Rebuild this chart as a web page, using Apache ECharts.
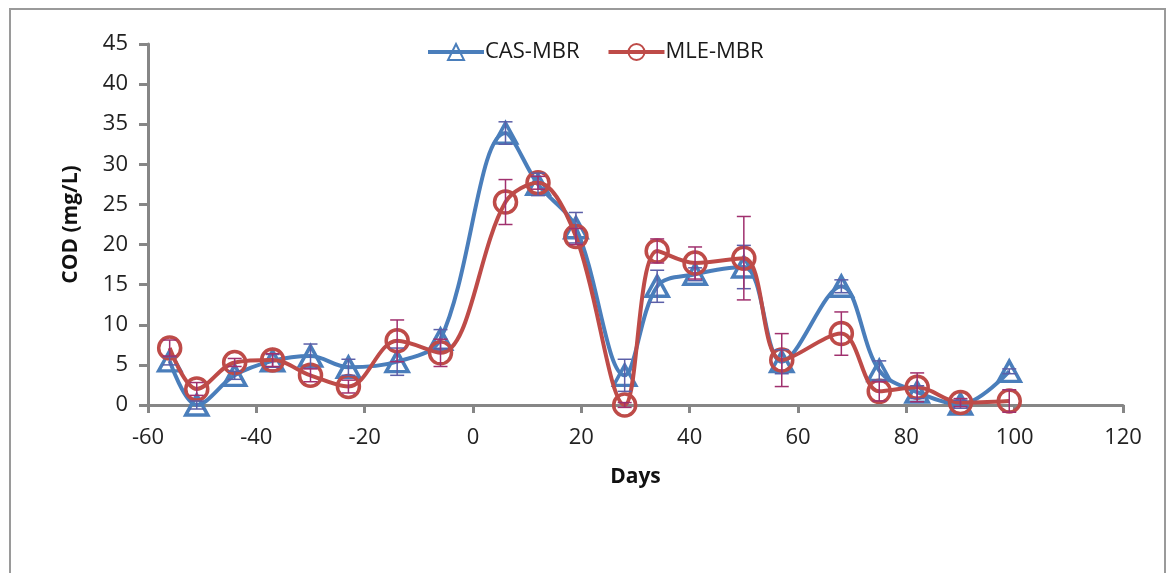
<!DOCTYPE html>
<html>
<head>
<meta charset="utf-8">
<script src="https://cdn.jsdelivr.net/npm/echarts@6/dist/echarts.min.js"></script>
<style>
  html, body { margin: 0; padding: 0; background: #fff; }
  #cod { width: 1170px; height: 573px; }
</style>
</head>
<body>
<div id="cod"></div>
<script>
// sampling days, shared by both reactors
var days = [-56, -51, -44, -37, -30, -23, -14, -6, 6, 12, 19, 28, 34, 41, 50, 57, 68, 75, 82, 90, 99];
// COD (mg/L)
var cas_mbr = [5.5, 0, 3.7, 5.5, 6.1, 4.7, 5.4, 8.2, 33.9, 27.5, 22.1, 3.7, 14.8, 16.3, 17.2, 5.4, 14.8, 4.3, 1.6, 0.1, 4.2];
var mle_mbr = [7.1, 2.0, 5.3, 5.6, 3.7, 2.3, 8.0, 6.5, 25.3, 27.7, 21.0, 0, 19.2, 17.7, 18.3, 5.6, 8.9, 1.7, 2.2, 0.3, 0.5];
// error bar half widths
var cas_err = [0.5, 0.5, 0.5, 0.8, 1.5, 1.0, 1.7, 1.2, 1.4, 1.4, 1.9, 2.0, 2.0, 0.8, 2.7, 1.5, 0.8, 1.2, 0.8, 0.5, 0.3];
var mle_err = [1.0, 0.8, 0.5, 0.8, 0.8, 0.8, 2.6, 1.7, 2.8, 0.8, 1.0, 0.3, 1.5, 2.0, 5.2, 3.3, 2.7, 1.2, 1.8, 0.5, 1.4];

var font = '"Open Sans", sans-serif';
var blue = '#4a7ebb';
var red = '#be4b48';

function pairs(xs, ys) {
  var out = [];
  for (var i = 0; i < xs.length; i++) out.push([xs[i], ys[i]]);
  return out;
}
function bars(xs, ys, es) {
  var out = [];
  for (var i = 0; i < xs.length; i++) out.push([xs[i], ys[i] - es[i], ys[i] + es[i]]);
  return out;
}
function errorBar(color) {
  return function (params, api) {
    var x = api.value(0);
    var top = api.coord([x, api.value(2)]);
    var bot = api.coord([x, api.value(1)]);
    var w = 7;
    var st = { stroke: color, lineWidth: 1.5 };
    return {
      type: 'group',
      children: [
        { type: 'line', shape: { x1: top[0], y1: top[1], x2: bot[0], y2: bot[1] }, style: st },
        { type: 'line', shape: { x1: top[0] - w, y1: top[1], x2: top[0] + w, y2: top[1] }, style: st },
        { type: 'line', shape: { x1: bot[0] - w, y1: bot[1], x2: bot[0] + w, y2: bot[1] }, style: st }
      ]
    };
  };
}

var chart = echarts.init(document.getElementById('cod'));
var option = {
  animation: false,
  backgroundColor: '#fff',
  graphic: [{
    type: 'rect',
    shape: { x: 10, y: 9, width: 1155, height: 620 },
    style: { fill: 'none', stroke: '#9a9a9a', lineWidth: 2 },
    silent: true
  }],
  legend: {
    data: ['CAS-MBR', 'MLE-MBR'],
    left: 421,
    top: 36,
    itemWidth: 56,
    itemHeight: 20,
    itemGap: 27,
    lineStyle: { width: 4 },
    textStyle: { fontFamily: font, fontSize: 22, color: '#1a1a1a', padding: [0, 0, 0, -4] }
  },
  grid: { left: 148, right: 47, top: 44, bottom: 168 },
  xAxis: {
    type: 'value',
    min: -60, max: 120, interval: 20,
    name: 'Days',
    nameLocation: 'middle',
    nameGap: 62,
    nameTextStyle: { fontFamily: font, fontSize: 21, fontWeight: 'bold', color: '#111' },
    axisLine: { onZero: false, lineStyle: { color: '#868686', width: 3 } },
    axisTick: { show: true, length: 8, lineStyle: { color: '#868686', width: 3 } },
    axisLabel: { fontFamily: font, fontSize: 22, color: '#222', margin: 22 },
    splitLine: { show: false }
  },
  yAxis: {
    type: 'value',
    min: 0, max: 45, interval: 5,
    name: 'COD (mg/L)',
    nameLocation: 'middle',
    nameGap: 66,
    nameTextStyle: { fontFamily: font, fontSize: 21, fontWeight: 'bold', color: '#111' },
    axisLine: { show: true, onZero: false, lineStyle: { color: '#868686', width: 3 } },
    axisTick: { show: true, length: 9, lineStyle: { color: '#868686', width: 3 } },
    axisLabel: { fontFamily: font, fontSize: 22, color: '#222', margin: 20 },
    splitLine: { show: false }
  },
  series: [
    {
      name: 'CAS-MBR',
      type: 'line',
      smooth: 0.35,
      data: pairs(days, cas_mbr),
      symbol: 'triangle',
      symbolSize: [22, 20],
      lineStyle: { color: blue, width: 4 },
      itemStyle: { color: 'rgba(255,255,255,0)', borderColor: blue, borderWidth: 3.5 },
      z: 3
    },
    {
      name: 'MLE-MBR',
      type: 'line',
      smooth: 0.35,
      data: pairs(days, mle_mbr),
      symbol: 'circle',
      symbolSize: 22,
      lineStyle: { color: red, width: 4 },
      itemStyle: { color: 'rgba(255,255,255,0)', borderColor: red, borderWidth: 3.5 },
      z: 4
    },
    {
      name: 'cas-err',
      type: 'custom',
      renderItem: errorBar('#5b5fa8'),
      data: bars(days, cas_mbr, cas_err),
      encode: { x: 0, y: [1, 2] },
      z: 5,
      silent: true
    },
    {
      name: 'mle-err',
      type: 'custom',
      renderItem: errorBar('#a0306e'),
      data: bars(days, mle_mbr, mle_err),
      encode: { x: 0, y: [1, 2] },
      z: 6,
      silent: true
    }
  ]
};
option && chart.setOption(option);
</script>
</body>
</html>
